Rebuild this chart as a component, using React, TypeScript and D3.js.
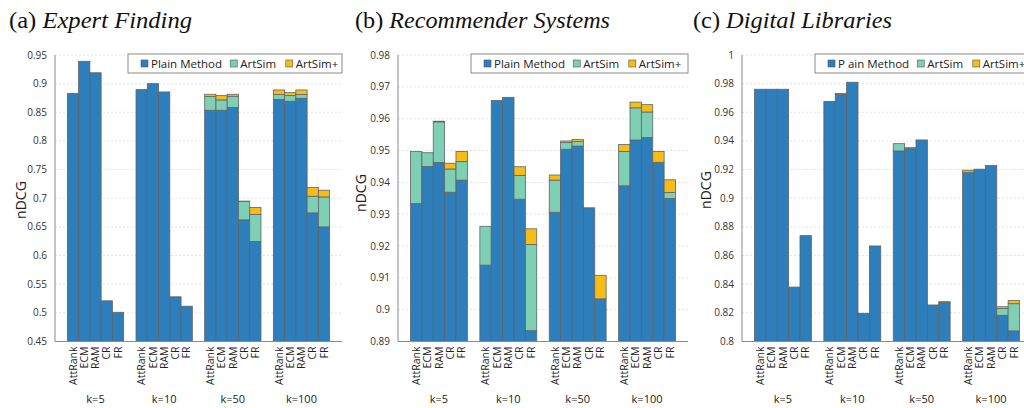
import React from "react";
import * as d3 from "d3";

const groups = ["k=5", "k=10", "k=50", "k=100"];
const methods = ["AttRank", "ECM", "RAM", "CR", "FR"];
const legendA = ["Plain Method", "ArtSim", "ArtSim+"];
const legendC = ["P ain Method", "ArtSim", "ArtSim+"];

// (a) Expert Finding
const expertPlain = [
  [0.883, 0.939, 0.919, 0.521, 0.501],
  [0.8896, 0.9, 0.8855, 0.528, 0.5116],
  [0.8536, 0.8536, 0.8583, 0.6623, 0.6246],
  [0.8722, 0.8693, 0.8745, 0.6745, 0.65],
];
const expertArtSim = [
  [0.883, 0.939, 0.919, 0.521, 0.501],
  [0.8896, 0.9, 0.8855, 0.528, 0.5116],
  [0.8774, 0.8716, 0.878, 0.6942, 0.6716],
  [0.8809, 0.8791, 0.881, 0.7035, 0.7023],
];
const expertArtSimPlus = [
  [0.883, 0.939, 0.919, 0.521, 0.501],
  [0.8896, 0.9, 0.8855, 0.528, 0.5116],
  [0.8815, 0.8791, 0.8815, 0.695, 0.6838],
  [0.889, 0.8843, 0.889, 0.7186, 0.714],
];
const expertTicks = [0.45, 0.5, 0.55, 0.6, 0.65, 0.7, 0.75, 0.8, 0.85, 0.9, 0.95];

// (b) Recommender Systems
const recPlain = [
  [0.9333, 0.945, 0.9462, 0.9369, 0.9407],
  [0.914, 0.9657, 0.9667, 0.9347, 0.8934],
  [0.9306, 0.9504, 0.9514, 0.932, 0.9034],
  [0.9389, 0.9533, 0.9541, 0.9463, 0.9349],
];
const recArtSim = [
  [0.9497, 0.9493, 0.959, 0.9442, 0.9465],
  [0.9262, 0.9657, 0.9667, 0.9422, 0.9205],
  [0.9407, 0.9525, 0.9528, 0.932, 0.9034],
  [0.9497, 0.9634, 0.9621, 0.9463, 0.9368],
];
const recArtSimPlus = [
  [0.9497, 0.9493, 0.9592, 0.946, 0.9497],
  [0.9262, 0.9657, 0.9667, 0.9449, 0.9254],
  [0.9423, 0.953, 0.9535, 0.932, 0.9108],
  [0.9519, 0.9652, 0.9644, 0.9497, 0.9408],
];
const recTicks = [0.89, 0.9, 0.91, 0.92, 0.93, 0.94, 0.95, 0.96, 0.97, 0.98];

// (c) Digital Libraries
const libPlain = [
  [0.9761, 0.9761, 0.9761, 0.838, 0.8739],
  [0.9676, 0.9725, 0.981, 0.8197, 0.8667],
  [0.933, 0.9346, 0.9407, 0.8255, 0.8273],
  [0.9173, 0.9203, 0.9228, 0.8183, 0.8074],
];
const libArtSim = [
  [0.9761, 0.9761, 0.9761, 0.838, 0.8739],
  [0.9676, 0.9731, 0.981, 0.8197, 0.8667],
  [0.9381, 0.9353, 0.9407, 0.8255, 0.8278],
  [0.9182, 0.9203, 0.9228, 0.823, 0.8264],
];
const libArtSimPlus = [
  [0.9761, 0.9761, 0.9761, 0.838, 0.8739],
  [0.9676, 0.9731, 0.981, 0.8197, 0.8667],
  [0.9381, 0.9353, 0.9407, 0.8255, 0.8278],
  [0.9196, 0.9203, 0.9228, 0.8243, 0.8287],
];
const libTicks = [0.8, 0.82, 0.84, 0.86, 0.88, 0.9, 0.92, 0.94, 0.96, 0.98, 1];

const COLORS = ["#2E7EBB", "#7FCFB4", "#F7BC17"];
const SANS = "'Open Sans', 'Noto Sans', sans-serif";
const SERIF = "'Liberation Serif', 'DejaVu Serif', serif";

type PanelProps = {
  letter: string;
  title: string;
  titleX: number;
  titleW: number;
  left: number;
  right: number;
  ticks: number[];
  plain: number[][];
  artsim: number[][];
  plus: number[][];
  legend: string[];
  legendLeft: number;
  yLabelX: number;
  yLabelY: number;
};

const TOP = 55;
const BOTTOM = 341.5;

function Panel(p: PanelProps) {
  const y = d3
    .scaleLinear()
    .domain([p.ticks[0], p.ticks[p.ticks.length - 1]])
    .range([BOTTOM, TOP]);
  const x0 = d3
    .scaleBand()
    .domain(groups)
    .range([p.left, p.right])
    .paddingInner(0.18)
    .paddingOuter(0.18);
  const x1 = d3.scaleBand().domain(methods).range([0, x0.bandwidth()]);
  const base = p.ticks[0];
  const fmt = (v: number) => String(+v.toFixed(2));

  const segs: React.ReactNode[] = [];
  groups.forEach((g, gi) => {
    methods.forEach((m, mi) => {
      const bx = (x0(g) as number) + (x1(m) as number);
      const w = x1.bandwidth();
      const levels = [base, p.plain[gi][mi], p.artsim[gi][mi], p.plus[gi][mi]];
      for (let s = 0; s < 3; s++) {
        const lo = levels[s];
        const hi = levels[s + 1];
        if (hi - lo <= 0) continue;
        segs.push(
          <rect
            key={`${g}-${m}-${s}`}
            x={bx}
            y={y(hi)}
            width={w}
            height={y(lo) - y(hi)}
            fill={COLORS[s]}
            stroke="#5d6468"
            strokeWidth={0.8}
          />
        );
      }
    });
  });

  const legY = 54;
  const legH = 19;
  const charW = 5.6;
  let cx = p.legendLeft + 13;
  const legItems = p.legend.map((label, i) => {
    const sx = cx;
    const tx = sx + 10;
    cx = tx + label.length * charW + 12;
    return (
      <g key={label}>
        <rect x={sx} y={legY + 6} width={7} height={7} fill={COLORS[i]} stroke="#555" strokeWidth={0.6} />
        <text x={tx} y={legY + 13.5} fontSize={11.5} fontFamily={SANS} fill="#222">
          {label}
        </text>
      </g>
    );
  });

  return (
    <g>
      <text
        x={p.titleX}
        y={28}
        fontFamily={SERIF}
        fontSize={23}
        fill="#111"
        textLength={p.titleW}
        lengthAdjust="spacingAndGlyphs"
      >
        <tspan>{`(${p.letter}) `}</tspan>
        <tspan fontStyle="italic">{p.title}</tspan>
      </text>
      {p.ticks.map((t) => (
        <g key={t}>
          {t !== p.ticks[0] && (
            <line
              x1={p.left}
              x2={p.right}
              y1={y(t)}
              y2={y(t)}
              stroke="#dcdcdc"
              strokeWidth={0.8}
              strokeDasharray="2,2"
            />
          )}
          <text
            x={p.left - 8}
            y={y(t)}
            dy="0.35em"
            textAnchor="end"
            fontSize={10}
            fontFamily={SANS}
            fill="#333"
          >
            {fmt(t)}
          </text>
        </g>
      ))}
      {segs}
      <line x1={p.left} x2={p.left} y1={TOP} y2={BOTTOM} stroke="#8a8a8a" strokeWidth={1} />
      <line x1={p.left} x2={p.right} y1={BOTTOM} y2={BOTTOM} stroke="#8a8a8a" strokeWidth={1} />
      <rect
        x={p.legendLeft}
        y={legY}
        width={p.right - p.legendLeft}
        height={legH}
        fill="#fff"
        stroke="#8a8a8a"
        strokeWidth={1}
      />
      {legItems}
      {groups.map((g) => (
        <g key={g}>
          {methods.map((m) => {
            const cxm = (x0(g) as number) + (x1(m) as number) + x1.bandwidth() / 2;
            return (
              <text
                key={m}
                transform={`translate(${cxm},${BOTTOM + 5}) rotate(-90)`}
                dy="0.35em"
                textAnchor="end"
                fontSize={10.5}
                fontFamily={SANS}
                fill="#222"
              >
                {m}
              </text>
            );
          })}
          <text
            x={(x0(g) as number) + x0.bandwidth() / 2}
            y={403}
            textAnchor="middle"
            fontSize={11}
            fontFamily={SANS}
            fill="#222"
          >
            {g}
          </text>
        </g>
      ))}
      <text
        transform={`translate(${p.yLabelX},${p.yLabelY}) rotate(-90)`}
        dy="0.35em"
        textAnchor="middle"
        fontSize={14}
        fontFamily={SANS}
        fill="#222"
      >
        nDCG
      </text>
    </g>
  );
}

export default function App() {
  return (
    <svg
      width={1024}
      height={408}
      style={{ position: "absolute", left: 0, top: 0, background: "#fff" }}
    >
      <rect width={1024} height={408} fill="#fff" />
      <Panel
        letter="a"
        title="Expert Finding"
        titleX={9}
        titleW={183}
        left={55}
        right={342}
        ticks={expertTicks}
        plain={expertPlain}
        artsim={expertArtSim}
        plus={expertArtSimPlus}
        legend={legendA}
        legendLeft={128}
        yLabelX={21}
        yLabelY={200}
      />
      <Panel
        letter="b"
        title="Recommender Systems"
        titleX={355}
        titleW={255}
        left={398}
        right={688}
        ticks={recTicks}
        plain={recPlain}
        artsim={recArtSim}
        plus={recArtSimPlus}
        legend={legendA}
        legendLeft={471}
        yLabelX={361}
        yLabelY={193}
      />
      <Panel
        letter="c"
        title="Digital Libraries"
        titleX={693}
        titleW={199}
        left={742}
        right={1032}
        ticks={libTicks}
        plain={libPlain}
        artsim={libArtSim}
        plus={libArtSimPlus}
        legend={legendC}
        legendLeft={815}
        yLabelX={706}
        yLabelY={190}
      />
    </svg>
  );
}
